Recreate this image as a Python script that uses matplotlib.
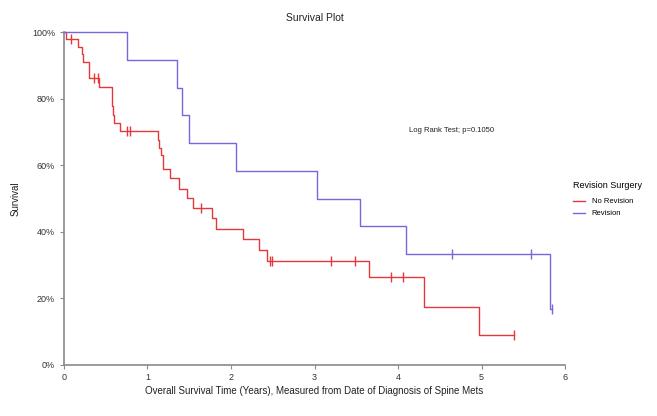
import numpy as np
import matplotlib
matplotlib.use('Agg')
import matplotlib.pyplot as plt
from matplotlib.ticker import PercentFormatter

plt.rcParams['font.family'] = ['Liberation Sans', 'DejaVu Sans']

# Kaplan-Meier steps (years, % surviving)
times_norev = [0, 0.03, 0.17, 0.21, 0.23, 0.30, 0.42, 0.57, 0.58, 0.59, 0.60, 0.67,
               1.12, 1.14, 1.16, 1.18, 1.27, 1.38, 1.47, 1.55, 1.77, 1.82, 2.14,
               2.33, 2.43, 3.65, 4.31, 4.97]
surv_norev = [100, 97.9, 95.6, 93.3, 90.9, 86.1, 83.4, 80.6, 77.8, 75.0, 72.8, 70.3,
              67.6, 65.1, 63.1, 58.9, 56.1, 52.9, 50.1, 47.1, 44.1, 40.9, 37.8,
              34.5, 31.3, 26.3, 17.4, 8.9]
censor_norev = [0.08, 0.36, 0.41, 0.76, 0.79, 1.64, 2.47, 2.49, 3.20, 3.48, 3.92, 4.06, 5.39]

times_rev = [0, 0.75, 1.35, 1.41, 1.50, 2.06, 3.03, 3.54, 4.10, 5.82]
surv_rev = [100, 91.7, 83.3, 75.0, 66.7, 58.3, 50.0, 41.7, 33.3, 16.7]
censor_rev = [4.65, 5.59, 5.84]

groups = ['No Revision', 'Revision']
colors = ['#e4383c', '#7468dc']


def km_line(times, surv, censors):
    # extend the step out to the last censored time
    t = np.array(times + [max(censors)])
    s = np.array(surv + [surv[-1]]) / 100
    idx = np.searchsorted(times, censors, side='right') - 1
    cs = np.array(surv)[idx] / 100
    return t, s, np.array(censors), cs


fig = plt.figure(figsize=(6.57, 4.16), dpi=100)
ax = fig.add_axes([0.0974, 0.1226, 0.7626, 0.8004])

data = [(times_norev, surv_norev, censor_norev), (times_rev, surv_rev, censor_rev)]
for (tm, sv, cn), name, col in zip(data, groups, colors):
    t, s, ct, cs = km_line(tm, sv, cn)
    ax.step(t, s, where='post', color=col, lw=1.0, label=name, clip_on=False, zorder=3)
    ax.plot(ct, cs, ls='none', marker='|', ms=7, mew=1.0, color=col, clip_on=False, zorder=3)

ax.set_xlim(0, 6)
ax.set_ylim(0, 1)
ax.set_xticks(range(7))
ax.set_yticks(np.arange(0, 1.01, 0.2))
ax.yaxis.set_major_formatter(PercentFormatter(1.0, decimals=0))

for side in ['top', 'right']:
    ax.spines[side].set_visible(False)
for side in ['left', 'bottom']:
    ax.spines[side].set_color('#8a8a8a')
    ax.spines[side].set_linewidth(1.2)
ax.tick_params(colors='#8a8a8a', labelcolor='#333333', labelsize=6.5, length=3, width=0.8)
ax.tick_params(axis='x', pad=2.5)

ax.set_title('Survival Plot', fontsize=7.5, color='#222222', pad=8)
ax.set_xlabel('Overall Survival Time (Years), Measured from Date of Diagnosis of Spine Mets',
              fontsize=7, color='#222222', labelpad=3)
ax.set_ylabel('Survival', fontsize=7, color='#222222', labelpad=8)

ax.text(4.13, 0.705, 'Log Rank Test; p=0.1050', fontsize=5.5, color='#222222', va='center')

leg = ax.legend(loc='upper left', bbox_to_anchor=(0.862, 0.582), bbox_transform=fig.transFigure,
                frameon=False, title='Revision Surgery', fontsize=5.5, title_fontsize=6.5,
                handlelength=1.6, handletextpad=0.8, labelspacing=0.6)
leg._legend_box.align = 'left'
leg._legend_box.sep = 6

fig.savefig('out.png', dpi=100)
